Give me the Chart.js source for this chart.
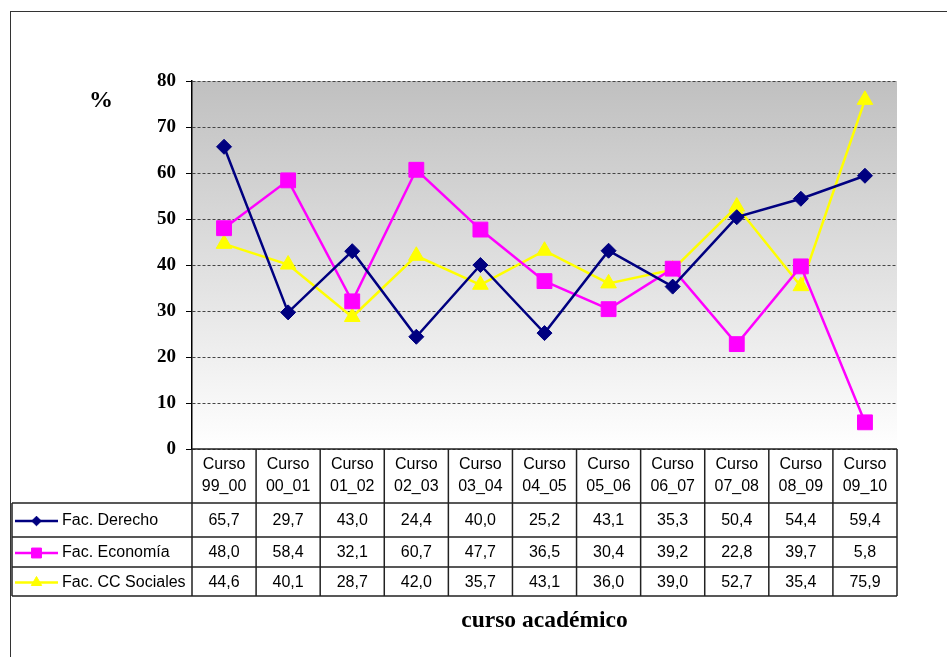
<!DOCTYPE html>
<html>
<head>
<meta charset="utf-8">
<script src="https://cdn.jsdelivr.net/npm/chart.js@4/dist/chart.umd.min.js"></script>
<style>
  html, body { margin: 0; padding: 0; background: #fff; }
  canvas { display: block; }
</style>
</head>
<body>
<canvas id="chart" width="947" height="657"></canvas>
<script>
/* Porcentaje por curso académico y facultad: líneas + tabla de datos debajo. */

const cursos = ['99_00','00_01','01_02','02_03','03_04','04_05','05_06','06_07','07_08','08_09','09_10'];
const derecho  = [65.7, 29.7, 43.0, 24.4, 40.0, 25.2, 43.1, 35.3, 50.4, 54.4, 59.4];
const economia = [48.0, 58.4, 32.1, 60.7, 47.7, 36.5, 30.4, 39.2, 22.8, 39.7, 5.8];
const sociales = [44.6, 40.1, 28.7, 42.0, 35.7, 43.1, 36.0, 39.0, 52.7, 35.4, 75.9];
const yTicks = [0, 10, 20, 30, 40, 50, 60, 70, 80];

const series = [
  { label: 'Fac. Derecho',     data: derecho,  color: '#000080', style: 'rectRot',  r: 7.5, rl: 4.8 },
  { label: 'Fac. Economía',    data: economia, color: '#ff00ff', style: 'rect',     r: 10.5, rl: 7 },
  { label: 'Fac. CC Sociales', data: sociales, color: '#ffff00', style: 'triangle', r: 9, rl: 6 }
];

const fmt = v => v.toFixed(1).replace('.', ',');
const SANS = '"Liberation Sans", Arial, sans-serif';
const SERIF = '"Liberation Serif", "Times New Roman", serif';

// fondo degradado del área de trazado
const bgPlugin = {
  id: 'bg',
  beforeDraw(chart) {
    const { ctx, chartArea: a } = chart;
    const g = ctx.createLinearGradient(0, a.top, 0, a.bottom);
    g.addColorStop(0, '#c0c0c0');
    g.addColorStop(1, '#ffffff');
    ctx.save();
    ctx.fillStyle = '#fff';
    ctx.fillRect(0, 0, chart.width, chart.height);
    ctx.fillStyle = g;
    ctx.fillRect(a.left, a.top, a.right - a.left, a.bottom - a.top);
    ctx.restore();
  }
};

// tabla de datos, marco y títulos
const tablePlugin = {
  id: 'tabla',
  afterDraw(chart) {
    const { ctx, chartArea: a } = chart;
    const xs = chart.scales.x;
    const half = (a.right - a.left) / cursos.length / 2;
    const hdrTop = a.bottom, hdrBot = 503;
    const rowLines = [503, 537, 567, 596];
    const tblLeft = 12;

    ctx.save();
    // marco exterior
    ctx.strokeStyle = '#333';
    ctx.lineWidth = 1;
    ctx.strokeRect(10.5, 11.5, 1000, 1000);

    ctx.strokeStyle = '#222';
    ctx.lineWidth = 1.5;
    ctx.beginPath();
    ctx.moveTo(a.left, hdrTop); ctx.lineTo(a.right, hdrTop);
    rowLines.forEach(y => { ctx.moveTo(tblLeft, y); ctx.lineTo(a.right, y); });
    ctx.moveTo(tblLeft, hdrBot); ctx.lineTo(tblLeft, rowLines[3]);
    ctx.moveTo(a.left, hdrTop); ctx.lineTo(a.left, rowLines[3]);
    cursos.forEach((c, i) => {
      const x = xs.getPixelForValue(i) + half;
      ctx.moveTo(x, hdrTop); ctx.lineTo(x, rowLines[3]);
    });
    ctx.stroke();

    ctx.fillStyle = '#000';
    ctx.font = '16px ' + SANS;
    ctx.textAlign = 'center';
    ctx.textBaseline = 'middle';
    cursos.forEach((c, i) => {
      const x = xs.getPixelForValue(i);
      ctx.fillText('Curso', x, 465);
      ctx.fillText(c, x, 487);
    });

    series.forEach((s, k) => {
      const yc = (rowLines[k] + rowLines[k + 1]) / 2 + 1;
      ctx.fillStyle = '#000';
      ctx.textAlign = 'center';
      s.data.forEach((v, i) => ctx.fillText(fmt(v), xs.getPixelForValue(i), yc));
      ctx.textAlign = 'left';
      ctx.fillText(s.label, 62, yc);
      // muestra de leyenda
      ctx.strokeStyle = s.color;
      ctx.fillStyle = s.color;
      ctx.lineWidth = 2.5;
      ctx.beginPath(); ctx.moveTo(15, yc); ctx.lineTo(58, yc); ctx.stroke();
      ctx.lineWidth = 1;
      Chart.helpers.drawPoint(ctx, { pointStyle: s.style, radius: s.rl, borderWidth: 1 }, 36.5, yc);
    });

    ctx.fillStyle = '#000';
    ctx.textAlign = 'center';
    ctx.font = 'bold 23.5px ' + SERIF;
    ctx.fillText('curso académico', (a.left + a.right) / 2, 621);
    ctx.font = 'bold 24px ' + SERIF;
    ctx.fillText('%', 101, 101);
    ctx.restore();
  }
};

new Chart(document.getElementById('chart'), {
  type: 'line',
  data: {
    labels: cursos,
    datasets: series.map(s => ({
      label: s.label,
      data: s.data,
      borderColor: s.color,
      backgroundColor: s.color,
      borderWidth: 2.5,
      pointStyle: s.style,
      pointRadius: s.r,
      pointBorderWidth: 1,
      tension: 0,
      fill: false
    }))
  },
  options: {
    responsive: false,
    animation: false,
    layout: { padding: { left: 0, top: 81, right: 50, bottom: 208 } },
    plugins: { legend: { display: false }, tooltip: { enabled: false } },
    scales: {
      x: { display: false, offset: true },
      y: {
        min: 0, max: 80,
        afterFit: s => { s.width = 192; },
        afterBuildTicks: s => { s.ticks = yTicks.map(v => ({ value: v })); },
        ticks: { color: '#000', padding: 10, font: { family: SERIF, size: 19, weight: 'bold' } },
        grid: { color: '#444', tickColor: '#000', tickLength: 6, lineWidth: 1 },
        border: { color: '#000', width: 1.5, dash: [3, 2] }
      }
    }
  },
  plugins: [bgPlugin, tablePlugin]
});
</script>
</body>
</html>
